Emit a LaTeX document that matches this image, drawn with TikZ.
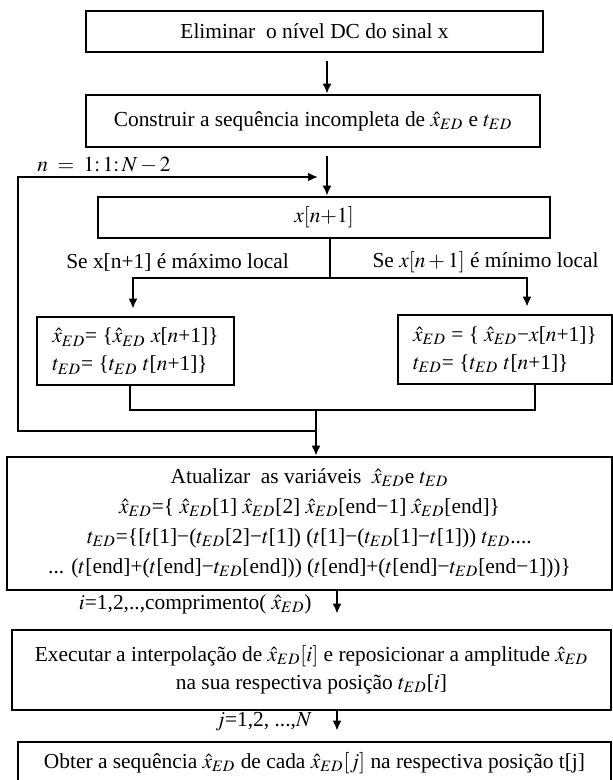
\documentclass[tikz,border=0pt]{standalone}
\usepackage{mathptmx}
\usepackage{fontspec}
\setmainfont{Liberation Serif}
\usepackage{tikz}
\usetikzlibrary{arrows.meta,positioning,calc}
\newcommand{\xed}{\hat{x}_{ED}}
\newcommand{\ted}{t_{ED}}
\tikzset{
  blk/.style={rectangle, draw=black, line width=1.3pt, align=center,
              inner sep=3pt, font=\fontsize{10.7}{15}\selectfont},
  lblk/.style={blk, align=left, inner xsep=5pt, font=\fontsize{10.7}{14}\selectfont},
  fl/.style={-{Latex[length=5pt,width=4.5pt]}, line width=1pt},
  ln/.style={line width=1pt},
  lbl/.style={font=\fontsize{10.7}{12}\selectfont, inner sep=0pt}
}

\begin{document}
\begin{tikzpicture}[x=0.5pt, y=-0.5pt]
\useasboundingbox (0,0) rectangle (613,780);

% caixas
\node[blk, minimum width=228.5pt, minimum height=20.5pt] (dc) at (314.5,31.5)
 {Eliminar\ \ o nível DC do sinal x};
\node[blk, minimum width=227pt, minimum height=26pt] (seq) at (313,121)
 {Construir a sequência incompleta de $\xed$ e $\ted$};
\node[blk, minimum width=226pt, minimum height=20.5pt] (xn) at (324,217.5)
 {$x[n{+}1]$};
\node[lblk, minimum width=98.5pt, minimum height=34pt] (maxb) at (135.5,351)
 {$\xed$= \{$\xed$ $x$[$n$+1]\}\\ $\ted$= \{$\ted$ $t$[$n$+1]\}};
\node[lblk, minimum width=107pt, minimum height=34.5pt] (minb) at (505,349.5)
 {$\xed$ = \{ $\xed$−$x$[$n$+1]\}\\ $\ted$= \{$\ted$ $t$[$n$+1]\}};
\node[blk, minimum width=302.5pt, minimum height=66.5pt] (upd) at (309.5,523.5)
 {Atualizar\ \ as variáveis\ \ $\xed$e $\ted$\\
  $\xed$=\{ $\xed$[1] $\xed$[2] $\xed$[end−1] $\xed$[end]\}\\
  $\ted$=\{[$t$[1]−($\ted$[2]−$t$[1]) ($t$[1]−($\ted$[1]−$t$[1])) $\ted$....\\
  ... ($t$[end]+($t$[end]−$\ted$[end])) ($t$[end]+($t$[end]−$\ted$[end−1]))\}};
\node[blk, minimum width=299.5pt, minimum height=40pt,
      font=\fontsize{10.7}{14}\selectfont] (exe) at (311.5,670)
 {Executar a interpolação de $\xed[i]$ e reposicionar a amplitude $\xed$\\
  na sua respectiva posição $\ted$[$i$]};
\node[blk, minimum width=296.5pt, minimum height=21pt] (obt) at (314.5,763)
 {Obter a sequência $\xed$ de cada $\xed[j]$ na respectiva posição t[j]};

% rotulos
\node[lbl] (nlab) at (104,165) {$n\;=\;1{:}\,1{:}\,N-2$};
\node[lbl] (maxlab) at (177.5,262) {Se x[n+1] é máximo local};
\node[lbl] (minlab) at (485.5,262) {Se $x[n+1]$ é mínimo local};
\node[lbl, anchor=east] (ilab) at (312,604) {$i$=1,2,..,comprimento( $\xed$)};
\node[lbl, anchor=east] (jlab) at (312,722) {$j$=1,2, ...,$N$};

% pontos auxiliares
\coordinate (ax) at (327,0);
\coordinate (split) at (330,278);
\coordinate (la) at (133,0);
\coordinate (ra) at (527,0);
\coordinate (lb) at (130,0);
\coordinate (rb) at (535,0);
\coordinate (merge) at (316,410);
\coordinate (lpl) at (18,431);
\coordinate (lpt) at (18,177);
\coordinate (bx) at (337,0);

% ligacoes
\draw[fl, shorten <=4pt] (dc.south -| ax) -- (seq.north -| ax);
\draw[fl, shorten <=4pt] (seq.south -| ax) -- (xn.north -| ax);
\draw[ln] (xn.south -| split) -- (split);
\draw[fl, shorten >=3.5pt] (split) -| (maxb.north -| la);
\draw[fl, shorten >=3.5pt] (split) -| (minb.north -| ra);
\draw[ln] (maxb.south -| lb) |- (merge) -| (minb.south -| rb);
\draw[fl] (merge) -- (upd.north -| merge);
\draw[fl, shorten >=4.5pt] (merge |- lpl) -- (lpl) -- (lpt) -- (lpt -| ax);
\draw[fl, shorten >=7.5pt] (upd.south -| bx) -- (exe.north -| bx);
\draw[fl, shorten >=5pt] (exe.south -| bx) -- (obt.north -| bx);

\end{tikzpicture}
\end{document}
